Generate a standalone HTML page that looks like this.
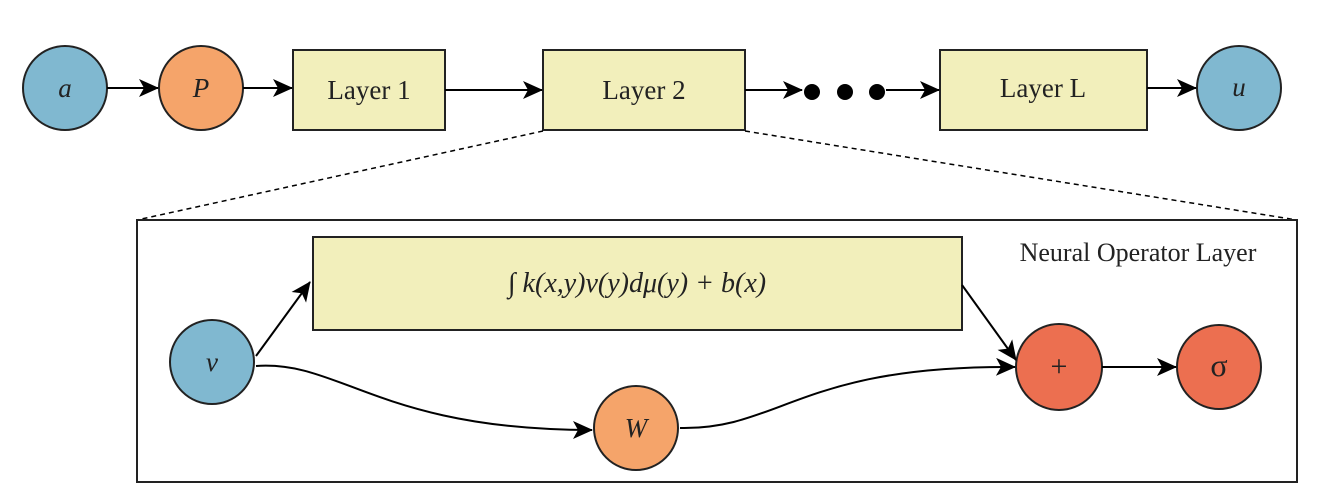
<!DOCTYPE html>
<html><head><style>body{margin:0;background:#fff}svg{display:block}</style></head><body>
<svg width="1329" height="494" viewBox="0 0 1329 494" xmlns="http://www.w3.org/2000/svg" font-family="Liberation Serif, serif">
<defs><marker id="ar" markerWidth="20" markerHeight="18" refX="19" refY="9" orient="auto" markerUnits="userSpaceOnUse"><path d="M0,0 L20,9 L0,18 L5,9 Z" fill="#000"/></marker></defs>
<g stroke="#222" stroke-width="2">
<circle cx="65" cy="88" r="42" fill="#80b8d0"/>
<circle cx="201" cy="88" r="42" fill="#f5a46a"/>
<rect x="293" y="50" width="152" height="80" fill="#f2efbb"/>
<rect x="543" y="50" width="202" height="80" fill="#f2efbb"/>
<rect x="940" y="50" width="207" height="80" fill="#f2efbb"/>
<circle cx="1239" cy="88" r="42" fill="#80b8d0"/>
</g>
<g fill="#000"><circle cx="812" cy="92" r="8"/><circle cx="845" cy="92" r="8"/><circle cx="877" cy="92" r="8"/></g>
<g stroke="#000" stroke-width="2" fill="none" marker-end="url(#ar)">
<line x1="107" y1="88" x2="158" y2="88"/>
<line x1="243" y1="88" x2="292" y2="88"/>
<line x1="445" y1="90" x2="542" y2="90"/>
<line x1="745" y1="90" x2="802" y2="90"/>
<line x1="886" y1="90" x2="939" y2="90"/>
<line x1="1147" y1="88" x2="1196" y2="88"/>
</g>
<g stroke="#000" stroke-width="1.5" stroke-dasharray="5,4"><line x1="543" y1="131" x2="137" y2="220"/><line x1="745" y1="131" x2="1297" y2="220"/></g>
<rect x="137" y="220" width="1160" height="262" fill="none" stroke="#222" stroke-width="2"/>
<rect x="313" y="237" width="649" height="93" fill="#f2efbb" stroke="#222" stroke-width="2"/>
<g stroke="#222" stroke-width="2">
<circle cx="212" cy="362" r="42" fill="#80b8d0"/>
<circle cx="636" cy="428" r="42" fill="#f5a46a"/>
<circle cx="1059" cy="367" r="43" fill="#ec6f50"/>
<circle cx="1219" cy="367" r="42" fill="#ec6f50"/>
</g>
<g stroke="#000" stroke-width="2" fill="none" marker-end="url(#ar)">
<line x1="256" y1="356" x2="310" y2="282"/>
<path d="M256,366 C340,360 380,430 592,430"/>
<path d="M680,428 C780,430 800,365 1015,367"/>
<line x1="962" y1="285" x2="1016" y2="360"/>
<line x1="1102" y1="367" x2="1176" y2="367"/>
</g>
<g font-size="27" fill="#222" text-anchor="middle">
<text x="65" y="97" font-style="italic">a</text>
<text x="201" y="97" font-style="italic">P</text>
<text x="369" y="99">Layer 1</text>
<text x="644" y="99">Layer 2</text>
<text x="1043" y="97">Layer L</text>
<text x="1239" y="96" font-style="italic">u</text>
<text x="212" y="371" font-style="italic">v</text>
<text x="636" y="437" font-style="italic">W</text>
<text x="1059" y="376" font-size="30">+</text>
<text x="1219" y="376" font-size="32">σ</text>
<text x="637" y="292" font-size="28" font-style="italic">∫ k(x,y)v(y)dμ(y) + b(x)</text>
<text x="1138" y="261" font-size="26">Neural Operator Layer</text>
</g>
</svg>
</body></html>
